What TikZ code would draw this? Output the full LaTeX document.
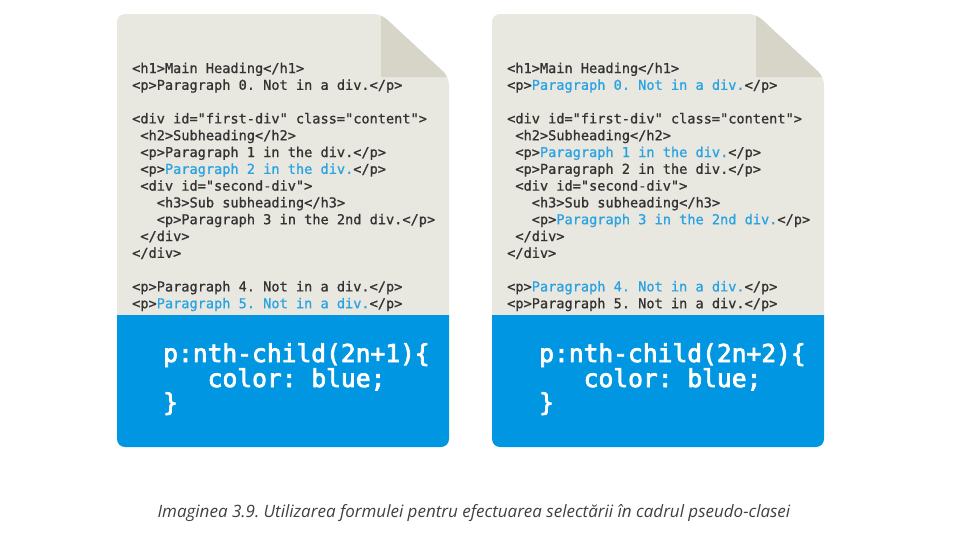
\documentclass[tikz,border=0pt]{standalone}
\usepackage{fontspec}
\newfontfamily\codefont[FakeBold=1]{DejaVu Sans Mono}
\newfontfamily\cssfont[FakeBold=3]{DejaVu Sans Mono}
\newfontfamily\capfont{Open Sans}
\definecolor{page}{HTML}{E8E7E0}
\definecolor{fold}{HTML}{D7D5C8}
\definecolor{cssblue}{HTML}{0096E2}
\definecolor{codegray}{HTML}{333333}
\definecolor{codeblue}{HTML}{2AA3E2}
\definecolor{capgray}{HTML}{404040}
\newcommand{\hl}[1]{\textcolor{codeblue}{#1}}
\begin{document}
\frenchspacing
\begin{tikzpicture}[x=1pt,y=-1pt,
  code/.style={anchor=base west,inner sep=0pt,text=codegray,font=\codefont\fontsize{13.6}{16}\selectfont},
  css/.style={anchor=base west,inner sep=0pt,text=white,font=\cssfont\fontsize{24.6}{28}\selectfont},
  captionstyle/.style={anchor=base,inner sep=0pt,text=capgray,font=\capfont\itshape\fontsize{17}{20}\selectfont}]
\useasboundingbox[fill=white] (0,0) rectangle (955,546);
% left page
\begin{scope}
\clip[rounded corners=8pt] (117,14) -- (381,14) -- (449,77) -- (449,447) -- (117,447) -- cycle;
\fill[page] (100,0) rectangle (460,315);
\fill[cssblue] (100,315) rectangle (460,460);
\fill[fold] (381,10) -- (381,77) -- (455,77) -- cycle;
\end{scope}
% right page
\begin{scope}
\clip[rounded corners=8pt] (492,14) -- (756,14) -- (824,77) -- (824,447) -- (492,447) -- cycle;
\fill[page] (480,0) rectangle (835,315);
\fill[cssblue] (480,315) rectangle (835,460);
\fill[fold] (756,10) -- (756,77) -- (830,77) -- cycle;
\end{scope}
% left code
\node[code] (L0) at (132,73) {<h1>Main Heading</h1>};
\node[code] (L1) at (132,89.8) {<p>Paragraph 0. Not in a div.</p>};
\node[code] (L3) at (132,123.4) {<div id="first-div" class="content">};
\node[code] (L4) at (140.2,140.2) {<h2>Subheading</h2>};
\node[code] (L5) at (140.2,157) {<p>Paragraph 1 in the div.</p>};
\node[code] (L6) at (140.2,173.8) {<p>\hl{Paragraph 2 in the div.}</p>};
\node[code] (L7) at (140.2,190.6) {<div id="second-div">};
\node[code] (L8) at (156.6,207.4) {<h3>Sub subheading</h3>};
\node[code] (L9) at (156.6,224.2) {<p>Paragraph 3 in the 2nd div.</p>};
\node[code] (L10) at (140.2,241) {</div>};
\node[code] (L11) at (132,257.8) {</div>};
\node[code] (L13) at (132,291.4) {<p>Paragraph 4. Not in a div.</p>};
\node[code] (L14) at (132,308.2) {<p>\hl{Paragraph 5. Not in a div.}</p>};
% right code
\node[code] (R0) at (507,73) {<h1>Main Heading</h1>};
\node[code] (R1) at (507,89.8) {<p>\hl{Paragraph 0. Not in a div.}</p>};
\node[code] (R3) at (507,123.4) {<div id="first-div" class="content">};
\node[code] (R4) at (515.2,140.2) {<h2>Subheading</h2>};
\node[code] (R5) at (515.2,157) {<p>\hl{Paragraph 1 in the div.}</p>};
\node[code] (R6) at (515.2,173.8) {<p>Paragraph 2 in the div.</p>};
\node[code] (R7) at (515.2,190.6) {<div id="second-div">};
\node[code] (R8) at (531.6,207.4) {<h3>Sub subheading</h3>};
\node[code] (R9) at (531.6,224.2) {<p>\hl{Paragraph 3 in the 2nd div.}</p>};
\node[code] (R10) at (515.2,241) {</div>};
\node[code] (R11) at (507,257.8) {</div>};
\node[code] (R13) at (507,291.4) {<p>\hl{Paragraph 4. Not in a div.}</p>};
\node[code] (R14) at (507,308.2) {<p>Paragraph 5. Not in a div.</p>};
% css blocks
\node[css] (LC1) at (163,362) {p:nth-child(2n+1)\{};
\node[css] (LC2) at (207.5,387) {color: blue;};
\node[css] (LC3) at (163,411) {\}};
\node[css] (RC1) at (539,362) {p:nth-child(2n+2)\{};
\node[css] (RC2) at (583.5,387) {color: blue;};
\node[css] (RC3) at (539,411) {\}};
% caption
\node[captionstyle] (cap) at (474,517) {Imaginea 3.9. Utilizarea formulei pentru efectuarea selectării în cadrul pseudo-clasei};
\end{tikzpicture}
\end{document}
